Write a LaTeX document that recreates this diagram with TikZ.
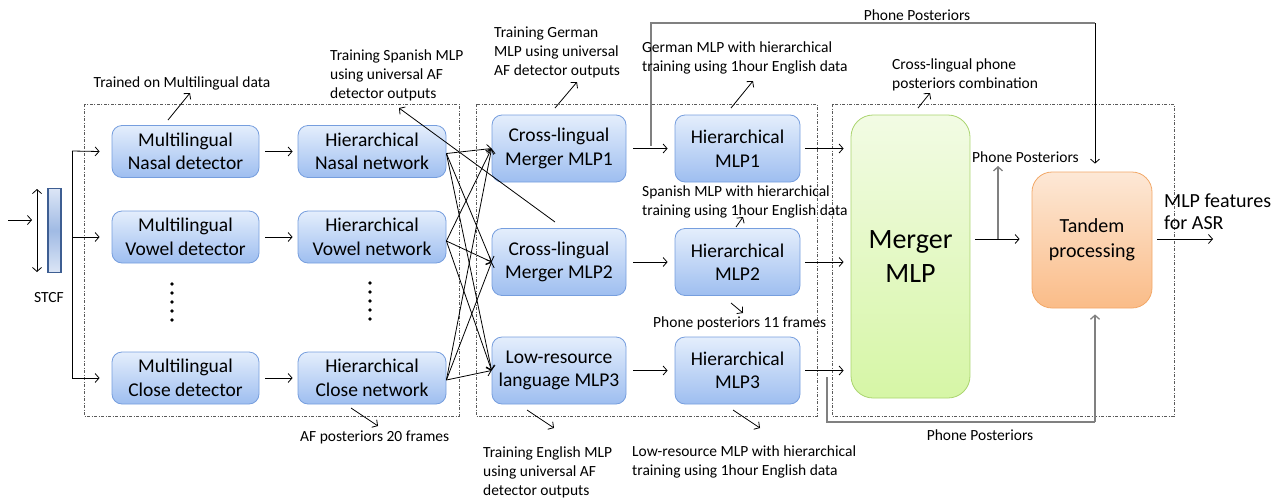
\documentclass[tikz,border=0pt]{standalone}
\usepackage{fontspec}
\setmainfont{Carlito}
\usetikzlibrary{arrows.meta,calc}
\definecolor{bluetop}{RGB}{228,238,252}
\definecolor{bluebot}{RGB}{158,190,240}
\definecolor{blueedge}{RGB}{118,158,222}
\definecolor{greentop}{RGB}{242,251,228}
\definecolor{greenbot}{RGB}{214,246,166}
\definecolor{greenedge}{RGB}{170,212,110}
\definecolor{orangetop}{RGB}{253,232,214}
\definecolor{orangebot}{RGB}{250,188,136}
\definecolor{orangeedge}{RGB}{242,168,104}
\definecolor{stcfl}{RGB}{220,230,246}
\definecolor{stcfm}{RGB}{160,186,228}
\definecolor{stcfedge}{RGB}{62,94,146}
\definecolor{fbgray}{RGB}{128,128,128}
\definecolor{grpgray}{RGB}{90,90,90}
\begin{document}
\begin{tikzpicture}[x=1pt,y=-1pt,
  bbox/.style={draw=blueedge, line width=0.8pt, rounded corners=10pt,
    top color=bluetop, bottom color=bluebot, align=center, inner sep=0pt,
    font=\fontsize{19.5}{23.5}\selectfont},
  mlbox/.style={bbox, minimum width=147pt, minimum height=52pt},
  hibox/.style={bbox, minimum width=148pt, minimum height=52pt},
  clbox/.style={bbox, minimum width=134pt, minimum height=67pt},
  hmbox/.style={bbox, minimum width=125pt, minimum height=67pt},
  small/.style={font=\fontsize{15.5}{19}\selectfont, inner sep=0pt, align=left},
  ln/.style={line width=0.8pt, black},
  arr/.style={line width=0.8pt, black, -{Straight Barb[length=4pt,width=9pt]}},
  arr2/.style={line width=0.8pt, black, {Straight Barb[length=4pt,width=9pt]}-{Straight Barb[length=4pt,width=9pt]}},
  fb/.style={line width=1.3pt, fbgray},
  fbarr/.style={line width=1.3pt, fbgray, -{Straight Barb[length=4pt,width=9pt]}},
  grp/.style={line width=0.7pt, grpgray, dash pattern=on 3pt off 1.5pt on 1pt off 1.5pt},
  dot/.style={fill=black, circle, inner sep=0pt, minimum size=3.6pt}
]
\useasboundingbox (0,0) rectangle (1271,498);

% group frames
\draw[grp] (84,104) rectangle (459,416);
\draw[grp] (476,104) rectangle (817,416);
\draw[grp] (832,104) rectangle (1174,416);

% input
\node[draw=stcfedge, line width=1.2pt, top color=stcfl, bottom color=stcfl, middle color=stcfm,
      minimum width=13pt, minimum height=84pt, inner sep=0pt] (stcf) at (54.5,230.5) {};
\node[small] (stcflab) at (49,298) {STCF};
\coordinate (in0) at (8,220);
\coordinate (in1) at (32,220);
\draw[arr] (in0) -- (in1);
\coordinate (da1) at (37,189);
\coordinate (da2) at (37,272);
\draw[arr2] (da1) -- (da2);

% column 1
\node[mlbox] (ml1) at (185.5,151.5) {Multilingual\\Nasal detector};
\node[mlbox] (ml2) at (185.5,237) {Multilingual\\Vowel detector};
\node[mlbox] (ml3) at (185.5,378) {Multilingual\\Close detector};
% column 2
\node[hibox] (hi1) at (372,151.5) {Hierarchical\\Nasal network};
\node[hibox] (hi2) at (372,237) {Hierarchical\\Vowel network};
\node[hibox] (hi3) at (372,378) {Hierarchical\\Close network};
% column 3
\node[clbox] (cl1) at (559,148.5) {Cross-lingual\\Merger MLP1};
\node[clbox] (cl2) at (559,262) {Cross-lingual\\Merger MLP2};
\node[clbox] (cl3) at (559,370.5) {Low-resource\\language MLP3};
% column 4
\node[hmbox] (hm1) at (737.5,148.5) {Hierarchical\\MLP1};
\node[hmbox] (hm2) at (737.5,262) {Hierarchical\\MLP2};
\node[hmbox] (hm3) at (737.5,370.5) {Hierarchical\\MLP3};
% merger and tandem
\node[draw=greenedge, line width=0.8pt, rounded corners=22pt, top color=greentop, bottom color=greenbot,
      minimum width=119pt, minimum height=283pt, inner sep=0pt, align=center,
      font=\fontsize{28}{34}\selectfont] (mg) at (910.5,256.5) {Merger\\MLP};
\node[draw=orangeedge, line width=0.8pt, rounded corners=20pt, top color=orangetop, bottom color=orangebot,
      minimum width=120pt, minimum height=136pt, inner sep=0pt, align=center,
      font=\fontsize{20}{25}\selectfont] (td) at (1092,240) {Tandem\\processing};

% vertical dots
\foreach \yy in {284,293,302,311,320} {
  \node[dot] at (172,\yy) {};
  \node[dot] at (370,\yy-1) {};
}

% branch from STCF
\coordinate (brT) at (72,151);
\coordinate (brB) at (72,378);
\draw[ln] (brT) -- (brB);
\draw[arr] (brT) -- ([xshift=-12pt]ml1.west);
\draw[arr] (brT |- ml2) -- ([xshift=-12pt]ml2.west);
\draw[arr] (brB) -- ([xshift=-12pt]ml3.west);

% col1 -> col2
\foreach \i in {1,2,3} {
  \draw[arr] ([xshift=6pt]ml\i.east) -- ([xshift=-5pt]hi\i.west);
}
% col2 -> col3 (all to all)
\foreach \s/\sy in {hi1/-2,hi2/-4,hi3/-2} {
  \foreach \t in {cl1,cl2,cl3} {
    \draw[arr] ([yshift=\sy pt]\s.east) -- (\t.west);
  }
}
% col3 -> col4
\foreach \i in {1,2,3} {
  \draw[arr] ([xshift=7pt]cl\i.east) -- ([xshift=-7pt]hm\i.west);
}
% col4 -> merger
\foreach \i in {1,2,3} {
  \draw[arr] ([xshift=5pt]hm\i.east) -- ([xshift=-7pt]hm\i.east -| mg.west);
}
% merger -> tandem
\coordinate (mt) at (998,239);
\draw[arr] ([xshift=5pt]mg.east |- mt) -- ([xshift=-12pt]td.west |- mt);
\coordinate (pp) at (998,166);
\draw[fbarr] (mt) -- (pp);
\node[small, anchor=west] (pplab) at (972,157) {Phone Posteriors};
% tandem -> out
\coordinate (out) at (1213,239);
\draw[arr] ([xshift=5pt]td.east |- out) -- (out);
\node[inner sep=0pt, align=left, anchor=west, font=\fontsize{20}{22}\selectfont] (outlab) at (1164,212) {MLP features\\for ASR};

% top feedback
\coordinate (ft0) at (651,146);
\coordinate (ft1) at (651,23);
\coordinate (ft2) at (1095,23);
\draw[fb] (ft0) -- (ft1) -- (ft2);
\draw[arr] (ft2) -- ([yshift=8pt]td.north -| ft2);
\node[small] (ftlab) at (917,15) {Phone Posteriors};
% bottom feedback
\coordinate (fb0) at (827,377);
\coordinate (fb1) at (827,422);
\coordinate (fb2) at (1095,422);
\draw[fb] (fb0) -- (fb1) -- (fb2);
\draw[fbarr] (fb2) -- ([yshift=-6pt]td.south -| fb2);
\node[small] (fblab) at (980,435) {Phone Posteriors};

% annotations
\node[small] (a1) at (182,83) {Trained on Multilingual data};
\draw[arr] (168,120) -- (190,93);
\node[small, anchor=west] (a2) at (330,75) {Training Spanish MLP\\using universal AF\\detector outputs};
\draw[arr] (555,222) -- (399,108);
\node[small, anchor=west] (a3) at (494,52) {Training German\\MLP using universal\\AF detector outputs};
\draw[arr] (555,108) -- (577,82);
\node[small, anchor=west] (a4) at (642,58) {German MLP with hierarchical\\training using 1hour English data};
\draw[arr] (731,108) -- (753,81);
\node[small, anchor=west] (a5) at (642,202) {Spanish MLP with hierarchical\\training using 1hour English data};
\draw[arr] (736,227) -- (743,217);
\node[small, anchor=west] (a6) at (653,323) {Phone posteriors 11 frames};
\draw[arr] (731,303) -- (743,313);
\node[small, anchor=west] (a7) at (892,75) {Cross-lingual phone\\posteriors combination};
\draw[arr] (918,108) -- (930,93);
\node[small, anchor=west] (a8) at (300,437) {AF posteriors 20 frames};
\draw[arr] (351,408) -- (378,426);
\node[small, anchor=west] (a9) at (483,472) {Training English MLP\\using universal AF\\detector outputs};
\draw[arr] (527,410) -- (554,428);
\node[small, anchor=west] (a10) at (632,462) {Low-resource MLP with hierarchical\\training using 1hour English data};
\draw[arr] (733,410) -- (760,428);
\end{tikzpicture}
\end{document}
